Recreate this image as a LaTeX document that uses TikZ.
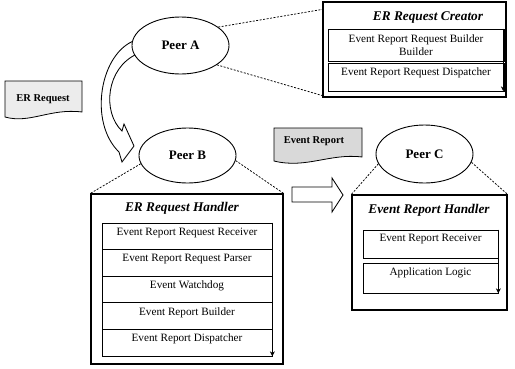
\documentclass[tikz,border=0pt]{standalone}
\usepackage{fontspec}
\setmainfont{Liberation Serif}
\usetikzlibrary{shapes.geometric,arrows.meta,calc}
\begin{document}
\begin{tikzpicture}[x=1pt,y=-1pt,
  peer/.style={ellipse,draw,line width=0.9pt,fill=white,inner sep=0pt,
    font=\fontsize{13}{15}\selectfont\bfseries},
  outerbox/.style={draw,line width=1.2pt,inner sep=0pt},
  rowbox/.style={draw,line width=0.65pt,inner sep=0pt},
  itemtext/.style={inner sep=0pt,align=center,font=\fontsize{11.2}{13}\selectfont},
  boxtitle/.style={inner sep=0pt,font=\fontsize{13.3}{15}\selectfont\bfseries\itshape},
  doctext/.style={inner sep=0pt,font=\fontsize{10.5}{12}\selectfont\bfseries},
  link/.style={line width=0.75pt,dash pattern=on 2pt off 1.5pt},
  scroll/.style={line width=0.75pt,-{Stealth[length=5pt,width=5pt]}},
  docshape/.style={draw,line width=0.8pt},
  blockarrow/.style={draw,line width=0.85pt,fill=white,line join=miter}
]
\useasboundingbox (0,0) rectangle (515,368);

% message documents
\draw[docshape,fill=gray!15] (5,81) -- (82,81) -- (82,112)
  .. controls (50,108) and (30,124) .. (5,117) -- cycle;
\node[doctext] (erq) at (43,99) {ER Request};
\draw[docshape,fill=gray!30] (274,128) -- (362,128) -- (362,157)
  .. controls (330,153) and (306,169) .. (274,161) -- cycle;
\node[doctext] (evr) at (314,141) {Event Report};

% curved block arrow from Peer A down to Peer B
\draw[blockarrow] (136,40) .. controls (100,52) and (88,122) .. (119,152)
  -- (122,162) -- (134,146) -- (124,124) -- (122,131)
  .. controls (102,112) and (106,68) .. (137,54) -- cycle;

% straight block arrow between the handlers
\draw[blockarrow] (292,187) -- (332,187) -- (332,178) -- (343,195)
  -- (332,212) -- (332,202) -- (292,202) -- cycle;

% peers
\node[peer,minimum width=97pt,minimum height=57pt] (pa) at (180.5,45.5) {Peer A};
\node[peer,minimum width=97pt,minimum height=55pt] (pb) at (187.5,155.5) {Peer B};
\node[peer,minimum width=97pt,minimum height=58pt] (pc) at (424.5,154) {Peer C};

% ER Request Creator
\node[outerbox,minimum width=183pt,minimum height=95pt] (crt) at (414.5,49.5) {};
\node[boxtitle] (crtT) at (428,18) {ER Request Creator};
\node[rowbox,minimum width=176pt,minimum height=32pt] (c1) at (416,45) {};
\node[itemtext] (c1t) at (c1.center) {Event Report Request Builder\\Builder};
\node[rowbox,minimum width=176pt,minimum height=28pt] (c2) at (416,77) {};
\node[itemtext] (c2t) at ($(c2.north)+(0,10)$) {Event Report Request Dispatcher};
\draw[scroll] ($(c1.north east)+(-1,0)$) -- ($(c2.south east)+(-1,0)$);

% ER Request Handler
\node[outerbox,minimum width=192pt,minimum height=170pt] (rh) at (187,279) {};
\node[boxtitle] (rhT) at (182,208) {ER Request Handler};
\foreach \i/\txt in {1/Event Report Request Receiver,2/Event Report Request Parser,
    3/Event Watchdog,4/Event Report Builder,5/Event Report Dispatcher}{
  \node[rowbox,minimum width=170pt,minimum height=26.6pt] (r\i)
    at (187,{223+26.6*(\i-0.5)}) {};
  \node[itemtext] (r\i t) at ($(r\i.north)+(0,10)$) {\txt};
}
\draw[scroll] (r1.north east) -- (r5.south east);

% Event Report Handler
\node[outerbox,minimum width=155pt,minimum height=115pt] (eh) at (429.5,252.5) {};
\node[boxtitle] (ehT) at (429,210) {Event Report Handler};
\node[rowbox,minimum width=135pt,minimum height=28pt] (e1) at (430.5,244) {};
\node[itemtext] (e1t) at ($(e1.north)+(0,9)$) {Event Report Receiver};
\node[rowbox,minimum width=135pt,minimum height=30pt] (e2) at (430.5,278) {};
\node[itemtext] (e2t) at ($(e2.north)+(0,10)$) {Application Logic};
\draw[scroll] (e1.north east) -- (e2.south east);

% dashed links from each peer to its component box
\draw[link] (pa.26) -- ($(crt.north west)+(0,8)$);
\draw[link] (pa.-28) -- ($(crt.south west)+(0,-2)$);
\draw[link] (pb.190) -- (rh.north west);
\draw[link] (pb.-6) -- (rh.north east);
\draw[link] (pc.192) -- (eh.north west);
\draw[link] (pc.-10) -- (eh.north east);
\end{tikzpicture}
\end{document}
